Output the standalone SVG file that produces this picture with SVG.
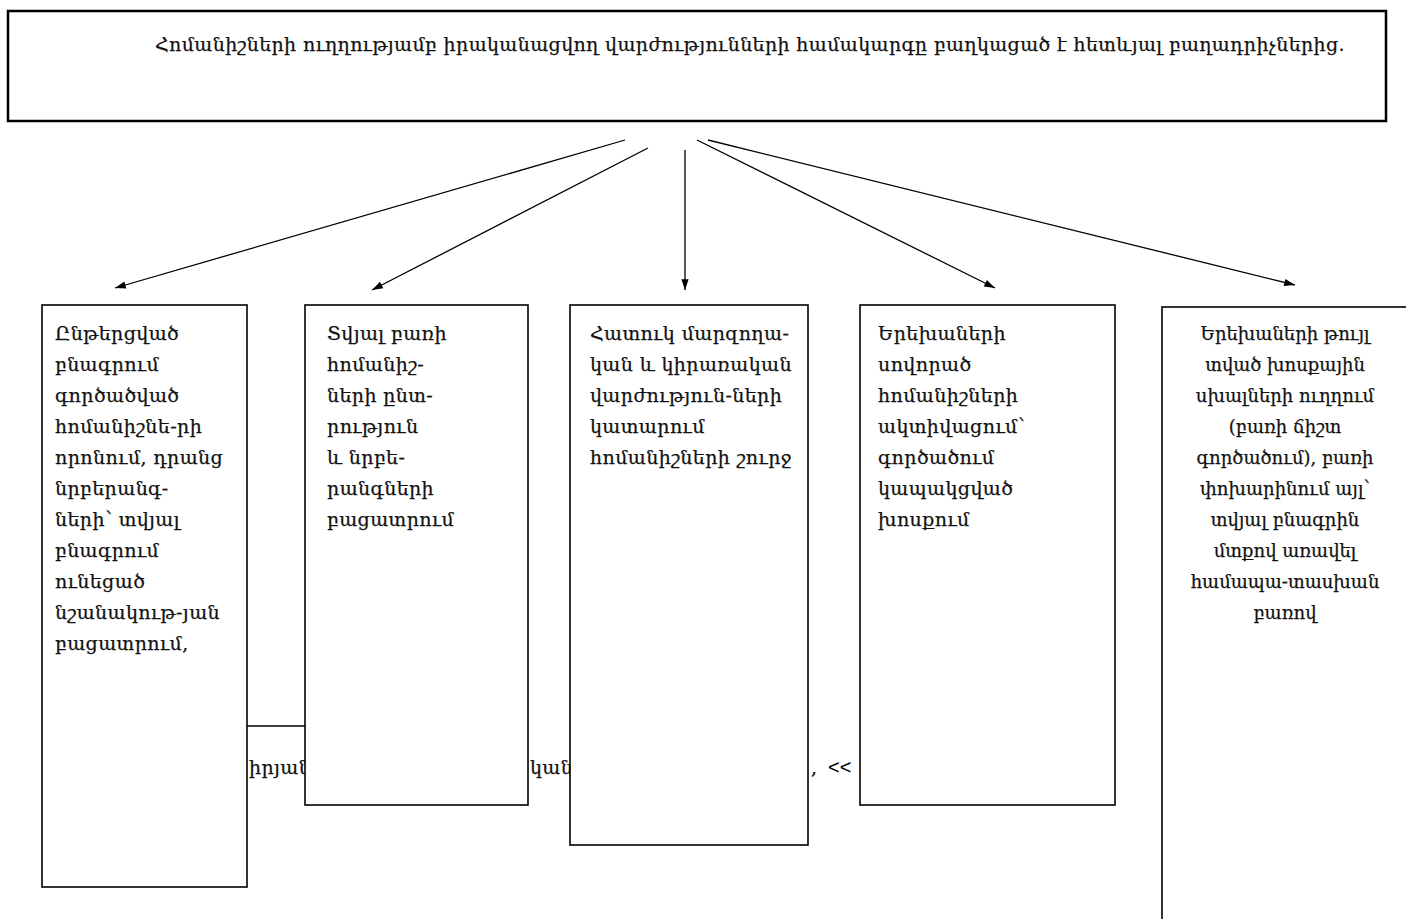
<svg xmlns="http://www.w3.org/2000/svg" width="1406" height="919" viewBox="0 0 1406 919">
<style>
.box{fill:#fff;stroke:#000;stroke-width:1.6}
.t{font-family:"DejaVu Serif","Liberation Serif",serif;font-size:19px;letter-spacing:0.4px;fill:#111;stroke:#111;stroke-width:0.25}
.s{font-family:"DejaVu Serif","Liberation Serif",serif;font-size:18px;fill:#111;stroke:#111;stroke-width:0.25}
.c{stroke:#000;stroke-width:1.3;fill:none}
</style>
<defs>
<marker id="ah" viewBox="0 0 12 10" refX="12" refY="5" markerWidth="12" markerHeight="9" markerUnits="userSpaceOnUse" orient="auto">
<path d="M0,1 L12,5 L0,9 Z" fill="#000"/>
</marker>
</defs>
<rect width="1406" height="919" fill="#fff"/>
<g id="top">
<rect x="8" y="11" width="1378" height="110" fill="#fff" stroke="#000" stroke-width="2.5"/>
<text class="t" x="155" y="51" font-size="18" letter-spacing="0" textLength="1190" lengthAdjust="spacingAndGlyphs">Հոմանիշների ուղղությամբ իրականացվող վարժությունների համակարգը բաղկացած է հետևյալ բաղադրիչներից.</text>
</g>
<g id="connectors">
<line class="c" x1="625" y1="140" x2="115" y2="288" marker-end="url(#ah)"/>
<line class="c" x1="648" y1="148" x2="372" y2="290" marker-end="url(#ah)"/>
<line class="c" x1="685" y1="150" x2="685" y2="290" marker-end="url(#ah)"/>
<line class="c" x1="697" y1="140" x2="995" y2="288" marker-end="url(#ah)"/>
<line class="c" x1="708" y1="140" x2="1295" y2="285" marker-end="url(#ah)"/>
</g>
<g id="hidden-line">
<line x1="240" y1="726" x2="310" y2="726" stroke="#000" stroke-width="1.5"/>
<text class="t" x="249" y="774" font-size="17">իրյան</text>
<text class="t" x="530" y="774" font-size="17">կան</text>
<text class="t" x="811" y="774">,</text>
<text x="828" y="774" font-family="Liberation Sans, sans-serif" font-size="20">&lt;&lt;</text>
</g>
<g id="n1">
<rect class="box" x="42" y="305" width="205" height="582"/>
<text class="t" x="55" y="340">Ընթերցված</text>
<text class="t" x="55" y="371">բնագրում</text>
<text class="t" x="55" y="402">գործածված</text>
<text class="t" x="55" y="433">հոմանիշնե-րի</text>
<text class="t" x="55" y="464">որոնում, դրանց</text>
<text class="t" x="55" y="495">նրբերանգ-</text>
<text class="t" x="55" y="526">ների՝ տվյալ</text>
<text class="t" x="55" y="557">բնագրում</text>
<text class="t" x="55" y="588">ունեցած</text>
<text class="t" x="55" y="619">նշանակութ-յան</text>
<text class="t" x="55" y="650">բացատրում,</text>
</g>
<g id="n2">
<rect class="box" x="305" y="305" width="223" height="500"/>
<text class="t" x="327" y="340">Տվյալ բառի</text>
<text class="t" x="327" y="371">հոմանիշ-</text>
<text class="t" x="327" y="402">ների ընտ-</text>
<text class="t" x="327" y="433">րություն</text>
<text class="t" x="327" y="464">և նրբե-</text>
<text class="t" x="327" y="495">րանգների</text>
<text class="t" x="327" y="526">բացատրում</text>
</g>
<g id="n3">
<rect class="box" x="570" y="305" width="238" height="540"/>
<text class="t" x="590" y="340">Հատուկ մարզողա-</text>
<text class="t" x="590" y="371">կան և կիրառական</text>
<text class="t" x="590" y="402">վարժություն-ների</text>
<text class="t" x="590" y="433">կատարում</text>
<text class="t" x="590" y="464">հոմանիշների շուրջ</text>
</g>
<g id="n4">
<rect class="box" x="860" y="305" width="255" height="500"/>
<text class="t" x="878" y="340">Երեխաների</text>
<text class="t" x="878" y="371">սովորած</text>
<text class="t" x="878" y="402">հոմանիշների</text>
<text class="t" x="878" y="433">ակտիվացում՝</text>
<text class="t" x="878" y="464">գործածում</text>
<text class="t" x="878" y="495">կապակցված</text>
<text class="t" x="878" y="526">խոսքում</text>
</g>
<g id="n5">
<rect class="box" x="1162" y="307" width="260" height="630"/>
<g text-anchor="middle">
<text class="s" x="1285" y="340">Երեխաների թույլ</text>
<text class="s" x="1285" y="371">տված խոսքային</text>
<text class="s" x="1285" y="402">սխալների ուղղում</text>
<text class="s" x="1285" y="433">(բառի ճիշտ</text>
<text class="s" x="1285" y="464">գործածում), բառի</text>
<text class="s" x="1285" y="495">փոխարինում այլ՝</text>
<text class="s" x="1285" y="526">տվյալ բնագրին</text>
<text class="s" x="1285" y="557">մտքով առավել</text>
<text class="s" x="1285" y="588">համապա-տասխան</text>
<text class="s" x="1285" y="619">բառով</text>
</g>
</g>
</svg>
